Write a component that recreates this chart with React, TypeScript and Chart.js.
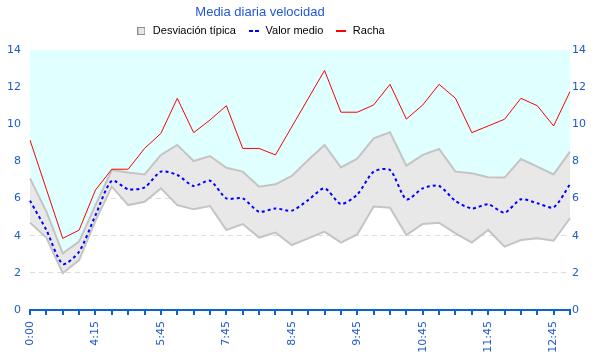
import React, { useEffect, useRef } from 'react';
import { Chart, registerables } from 'chart.js';

Chart.register(...registerables);

// ---- data ----
const times = [
  '0:00', '1:45', '2:30', '3:30', '4:15', '4:45', '5:00', '5:15', '5:45',
  '6:15', '6:45', '7:15', '7:45', '8:00', '8:15', '8:30', '8:45', '9:00',
  '9:15', '9:30', '9:45', '10:00', '10:15', '10:30', '10:45', '11:00', '11:15',
  '11:30', '11:45', '12:00', '12:15', '12:30', '12:45', '13:00',
];

const racha = [
  9.15, 6.5, 3.86, 4.3, 6.46, 7.58, 7.58, 8.7, 9.51, 11.4, 9.55, 10.23, 11.0,
  8.7, 8.7, 8.35, 9.87, 11.38, 12.9, 10.65, 10.65, 11.04, 12.15, 10.28, 11.04,
  12.15, 11.4, 9.55, 9.91, 10.27, 11.4, 11.0, 9.91, 11.76,
];

const valorMedio = [
  5.89, 4.3, 2.48, 3.14, 5.1, 6.96, 6.5, 6.6, 7.45, 7.27, 6.68, 6.96, 6.01,
  6.01, 5.29, 5.47, 5.35, 5.92, 6.55, 5.71, 6.22, 7.45, 7.54, 5.96, 6.55, 6.68,
  5.87, 5.47, 5.69, 5.24, 5.96, 5.75, 5.53, 6.77,
];

const desvSuperior = [
  7.09, 5.3, 3.05, 3.68, 5.65, 7.54, 7.41, 7.3, 8.35, 8.89, 8.02, 8.29, 7.66,
  7.45, 6.64, 6.77, 7.22, 8.08, 8.89, 7.68, 8.15, 9.24, 9.57, 7.77, 8.35, 8.67,
  7.45, 7.36, 7.15, 7.13, 8.13, 7.72, 7.3, 8.53,
];

const desvInferior = [
  4.7, 3.9, 1.98, 2.69, 4.8, 6.64, 5.65, 5.83, 6.55, 5.65, 5.42, 5.6, 4.31,
  4.63, 3.9, 4.17, 3.5, 3.86, 4.22, 3.63, 4.07, 5.57, 5.51, 4.04, 4.63, 4.7,
  4.13, 3.63, 4.31, 3.41, 3.77, 3.86, 3.73, 4.94,
];

const titleText = 'Media diaria velocidad';
const legendNames = ['Desviación típica', 'Valor medio', 'Racha'];
const yMin = 0;
const yMax = 14;
const yStep = 2;

// ---- styles ----
const AXIS_BLUE = '#0a64d0';
const LABEL_BLUE = '#1d5bc9';
const TITLE_BLUE = '#2358d6';
const TICK_FONT = { family: 'DejaVu Sans', size: 11 };

function swatch(w: number, h: number, draw: (ctx: CanvasRenderingContext2D) => void) {
  const c = document.createElement('canvas');
  c.width = w;
  c.height = h;
  const ctx = c.getContext('2d');
  if (ctx) draw(ctx);
  return c;
}

export default function App() {
  const ref = useRef<HTMLCanvasElement>(null);

  useEffect(() => {
    if (!ref.current) return;

    const sq = swatch(8, 8, (ctx) => {
      ctx.fillStyle = '#e6e6e6';
      ctx.fillRect(0, 0, 8, 8);
      ctx.strokeStyle = '#8c8c8c';
      ctx.lineWidth = 1;
      ctx.strokeRect(0.5, 0.5, 7, 7);
    });
    const dashed = swatch(10, 2, (ctx) => {
      ctx.fillStyle = '#0000ff';
      ctx.fillRect(0, 0, 4, 2);
      ctx.fillRect(6, 0, 4, 2);
    });
    const solid = swatch(10, 2, (ctx) => {
      ctx.fillStyle = '#ff0000';
      ctx.fillRect(0, 0, 10, 2);
    });
    const swatches = [sq, dashed, solid];

    const placeBoxes = {
      id: 'placeBoxes',
      afterLayout(chart: any) {
        const t = chart.titleBlock;
        if (t) {
          const h = t.bottom - t.top;
          t.left = 0;
          t.right = 520;
          t.top = 4.2;
          t.bottom = t.top + h;
        }
        const l = chart.legend;
        if (l) {
          const h = l.bottom - l.top;
          l.left = 0;
          l.right = 520;
          l.top = 13.5;
          l.bottom = l.top + h;
        }
      },
    };

    const chart = new Chart(ref.current, {
      type: 'line',
      data: {
        labels: times,
        datasets: [
          {
            label: legendNames[2],
            data: racha,
            borderColor: '#ff0000',
            borderWidth: 1,
            pointRadius: 0,
            fill: false,
            tension: 0,
          },
          {
            label: legendNames[1],
            data: valorMedio,
            borderColor: '#0000ff',
            borderWidth: 2,
            borderDash: [3, 3],
            pointRadius: 0,
            fill: false,
            tension: 0.25,
          },
          {
            label: legendNames[0],
            data: desvSuperior,
            borderColor: '#c4c4c4',
            backgroundColor: '#e8e8e8',
            borderWidth: 2,
            pointRadius: 0,
            fill: '+1',
            tension: 0,
          },
          {
            label: 'inf',
            data: desvInferior,
            borderColor: '#c4c4c4',
            borderWidth: 2,
            pointRadius: 0,
            fill: false,
            tension: 0,
          },
          {
            label: 'top',
            data: desvSuperior,
            borderWidth: 0,
            borderColor: 'rgba(0,0,0,0)',
            backgroundColor: '#e0ffff',
            pointRadius: 0,
            fill: 'end',
            tension: 0,
          },
        ],
      },
      options: {
        animation: false,
        responsive: false,
        events: [],
        layout: { padding: 0 },
        plugins: {
          filler: { drawTime: 'beforeDatasetsDraw' },
          tooltip: { enabled: false },
          title: {
            display: true,
            text: titleText,
            color: TITLE_BLUE,
            font: { family: 'Liberation Sans', size: 13, weight: 'normal' },
            padding: { top: 0, bottom: 1.4 },
          },
          legend: {
            display: true,
            labels: {
              usePointStyle: true,
              pointStyleWidth: 12,
              boxHeight: 11,
              padding: 12,
              color: '#111111',
              font: { family: 'Liberation Sans', size: 11 },
              generateLabels: () =>
                legendNames.map((name, i) => ({
                  text: name,
                  pointStyle: swatches[i],
                  fillStyle: 'transparent',
                  strokeStyle: 'transparent',
                  lineWidth: 0,
                  hidden: false,
                  datasetIndex: 2 - i,
                })),
            },
          },
        },
        scales: {
          x: {
            type: 'category',
            offset: false,
            grid: {
              drawOnChartArea: false,
              drawTicks: true,
              tickLength: 5,
              color: AXIS_BLUE,
              lineWidth: 2,
            },
            border: { display: true, color: AXIS_BLUE, width: 2 },
            ticks: {
              autoSkip: false,
              maxRotation: 90,
              minRotation: 90,
              padding: 6,
              color: LABEL_BLUE,
              font: TICK_FONT,
              callback: (_v: any, i: number) => (i % 4 === 0 ? times[i] : ''),
            },
            afterFit: (s: any) => {
              s.height = 50;
            },
          },
          y: {
            position: 'left',
            min: yMin,
            max: yMax,
            ticks: { stepSize: yStep, padding: 9, color: LABEL_BLUE, font: TICK_FONT },
            grid: { color: '#dcdcdc', drawTicks: false, lineWidth: 1 },
            border: { display: false, dash: [5, 4] },
            afterFit: (s: any) => {
              s.width = 30;
            },
          },
          y1: {
            position: 'right',
            min: yMin,
            max: yMax,
            ticks: { stepSize: yStep, padding: 2, color: LABEL_BLUE, font: TICK_FONT },
            grid: { display: false, drawTicks: false },
            border: { display: false },
            afterFit: (s: any) => {
              s.width = 30;
            },
          },
        },
      },
      plugins: [placeBoxes],
    } as any);

    return () => chart.destroy();
  }, []);

  return (
    <div style={{ position: 'fixed', left: 0, top: 0, width: 600, height: 360, background: '#ffffff' }}>
      <canvas ref={ref} width={600} height={360} style={{ display: 'block' }} />
    </div>
  );
}
